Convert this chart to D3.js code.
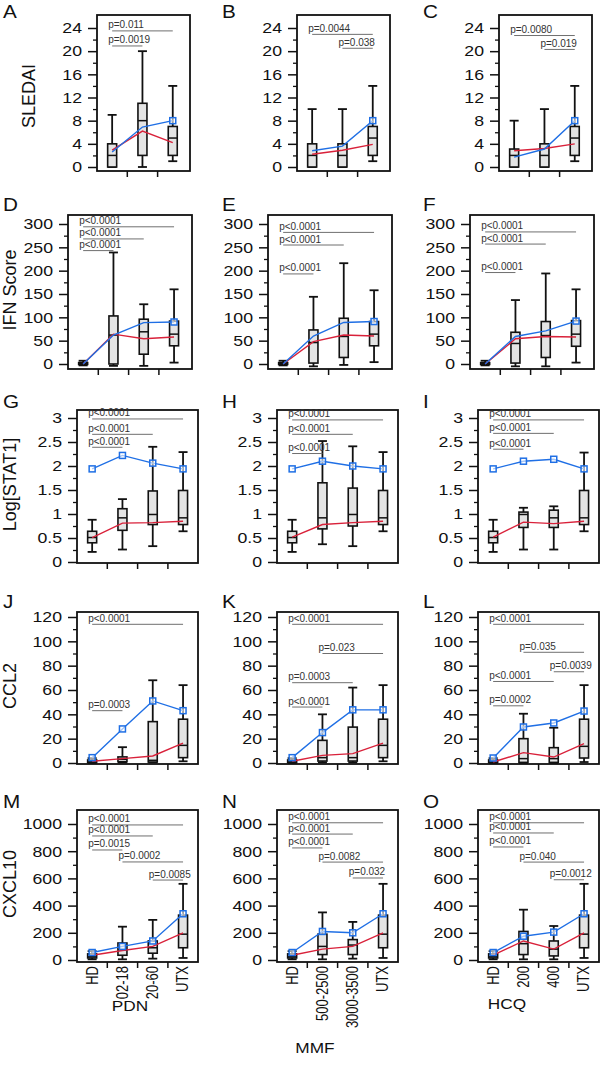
<!DOCTYPE html>
<html><head><meta charset="utf-8">
<script src="https://cdn.jsdelivr.net/npm/d3@7"></script>
<style>
body{margin:0;background:#fff}
svg{display:block}
text{font-family:Arial,"Liberation Sans",sans-serif}
</style></head><body>
<svg id="chart" width="600" height="1074"></svg>
<script>
// ---------- DATA ----------
const groupsPDN = ["HD","02-18","20-60","UTX"];
const groupsMMF = ["HD","500-2500","3000-3500","UTX"];
const groupsHCQ = ["HD","200","400","UTX"];
const treatments = ["PDN","MMF","HCQ"];
const measures = ["SLEDAI","IFN Score","Log[STAT1]","CCL2","CXCL10"];
const panelLetters = ["A","B","C","D","E","F","G","H","I","J","K","L","M","N","O"];

const ticksSLEDAI = [0,4,8,12,16,20,24];
const minorSLEDAI = [2,6,10,14,18,22];
const ticksIFN = [0,50,100,150,200,250,300];
const minorIFN = [25,75,125,175,225,275];
const ticksSTAT1 = [0,0.5,1,1.5,2,2.5,3];
const minorSTAT1 = [0.25,0.75,1.25,1.75,2.25,2.75];
const ticksCCL2 = [0,20,40,60,80,100,120];
const minorCCL2 = [10,30,50,70,90,110];
const ticksCXCL10 = [0,200,400,600,800,1000];
const minorCXCL10 = [100,300,500,700,900];

// box stats per group: [lowWhisker, Q1, median, Q3, highWhisker]
const boxA = [[0,0,2,4,9],[0,2,8,11,20],[1,2,5,7,14]];
const boxB = [[0,0,2,4,10],[0,0,2,4,10],[1,2,5,7,14]];
const boxC = [[0,0,2,3.1,8],[0,0,2,4,10],[1,2,5,7,14]];
const boxD = [[-3,-1,1,3,7],[-4,0,62,103,239],[-4,21,69,96,128],[3,39,64,92,160]];
const boxE = [[-3,-1,1,3,7],[-5,2,46,73,144],[-2,14,59,98,216],[4,39,64,91,158]];
const boxF = [[-3,-1,1,3,7],[-5,2,44,68,137],[-5,14,61,91,194],[3,38,64,93,160]];
const boxG = [[0.21,0.40,0.51,0.64,0.88],[0.26,0.66,0.92,1.11,1.31],[0.33,0.78,0.99,1.48,2.40],[0.64,0.78,0.92,1.49,2.29]];
const boxH = [[0.21,0.40,0.51,0.64,0.88],[0.37,0.69,0.92,1.65,2.52],[0.33,0.75,0.99,1.54,2.41],[0.64,0.78,0.92,1.49,2.29]];
const boxI = [[0.21,0.40,0.51,0.64,0.88],[0.26,0.72,0.99,1.04,1.13],[0.26,0.72,0.92,1.08,1.16],[0.64,0.78,0.92,1.49,2.28]];
const boxJ = [[0,0.5,1,2.5,4],[0.5,1,3,5,13],[0.5,0.8,2.2,34,68],[1.4,4.4,14.5,36,64]];
const boxK = [[0,0.5,1,2.5,4],[0.5,1.6,4.4,18.6,40],[0.5,1.6,4.4,29.5,62],[1.4,4.4,14.5,36,64]];
const boxL = [[0,0.5,1,2.5,4],[0,0.5,3.6,20,40.5],[0,0.5,3.6,12.6,29],[0.8,4.1,13.7,36,64]];
const boxM = [[5,15,25,45,65],[5,35,75,125,245],[10,50,90,140,295],[15,90,190,330,560]];
const boxN = [[5,15,25,45,65],[5,40,100,190,350],[10,40,110,150,280],[15,90,190,330,560]];
const boxO = [[5,15,25,45,65],[5,40,120,210,370],[5,30,80,140,250],[15,90,190,330,560]];

// red line values per group
const redA = [2.9,6.2,4.2];
const redB = [2.2,2.9,3.9];
const redC = [2.8,3.2,4.0];
const redD = [0,64,54,58];
const redE = [0,48,62,60];
const redF = [0,54,59,58];
const redG = [0.51,0.81,0.82,0.85];
const redH = [0.52,0.78,0.82,0.85];
const redI = [0.52,0.83,0.80,0.85];
const redJ = [1.4,3.6,5.8,16.4];
const redK = [1.4,6.3,7.7,16.4];
const redL = [0.8,8.5,4.9,16];
const redM = [35,70,100,200];
const redN = [35,80,100,200];
const redO = [35,140,80,200];

// blue line values per group
const blueA = [2.6,6.9,8.0];
const blueB = [2.8,3.6,8.0];
const blueC = [1.7,3.1,8.0];
const blueD = [0,62,88.6,90];
const blueE = [0,60,89,91];
const blueF = [0,59,71,92];
const blueG = [1.94,2.22,2.06,1.94];
const blueH = [1.94,2.10,2.00,1.94];
const blueI = [1.94,2.10,2.14,1.94];
const blueJ = [4.4,28,51,43];
const blueK = [4.4,25,43.7,43.7];
const blueL = [4.1,29.6,32.9,42.7];
const blueM = [55,100,140,340];
const blueN = [55,210,200,340];
const blueO = [55,175,205,340];

// p-value comparisons: [fromGroup, toGroup, label, level (in data units)]
const pA = [[0,2,"p=0.011",23.5],[0,1,"p=0.0019",20.9]];
const pB = [[0,2,"p=0.0044",22.9],[1,2,"p=0.038",20.5]];
const pC = [[0,2,"p=0.0080",22.7],[1,2,"p=0.019",20.3]];
const pD = [[0,3,"p<0.0001",294],[0,2,"p<0.0001",268],[0,1,"p<0.0001",243]];
const pE = [[0,3,"p<0.0001",282],[0,2,"p<0.0001",255],[0,1,"p<0.0001",193]];
const pF = [[0,3,"p<0.0001",283],[0,2,"p<0.0001",257],[0,1,"p<0.0001",196]];
const pG = [[0,3,"p<0.0001",2.98],[0,2,"p<0.0001",2.66],[0,1,"p<0.0001",2.39]];
const pH = [[0,3,"p<0.0001",2.96],[0,2,"p<0.0001",2.66],[0,1,"p<0.0001",2.26]];
const pI = [[0,3,"p<0.0001",2.96],[0,2,"p<0.0001",2.68],[0,1,"p<0.0001",2.35]];
const pJ = [[0,3,"p<0.0001",114],[0,1,"p=0.0003",43]];
const pK = [[0,3,"p<0.0001",114],[1,3,"p=0.023",90],[0,2,"p=0.0003",66],[0,1,"p<0.0001",46]];
const pL = [[0,3,"p<0.0001",114],[1,3,"p=0.035",91],[2,3,"p=0.0039",75],[0,2,"p<0.0001",67],[0,1,"p=0.0002",47]];
const pM = [[0,3,"p<0.0001",993],[0,2,"p<0.0001",912],[0,1,"p=0.0015",809],[1,3,"p=0.0002",721],[2,3,"p=0.0085",588]];
const pN = [[0,3,"p<0.0001",1009],[0,2,"p<0.0001",926],[0,1,"p<0.0001",824],[1,3,"p=0.0082",720],[2,3,"p=0.032",603]];
const pO = [[0,3,"p<0.0001",1009],[0,2,"p<0.0001",934],[0,1,"p<0.0001",831],[1,3,"p=0.040",720],[2,3,"p=0.0012",590]];

// ---------- ASSEMBLY ----------
const groupSets = [groupsPDN, groupsMMF, groupsHCQ];
const tickSets = [
  {major:ticksSLEDAI, minor:minorSLEDAI},
  {major:ticksIFN, minor:minorIFN},
  {major:ticksSTAT1, minor:minorSTAT1},
  {major:ticksCCL2, minor:minorCCL2},
  {major:ticksCXCL10, minor:minorCXCL10}
];
const boxSets = [boxA,boxB,boxC,boxD,boxE,boxF,boxG,boxH,boxI,boxJ,boxK,boxL,boxM,boxN,boxO];
const redSets = [redA,redB,redC,redD,redE,redF,redG,redH,redI,redJ,redK,redL,redM,redN,redO];
const blueSets = [blueA,blueB,blueC,blueD,blueE,blueF,blueG,blueH,blueI,blueJ,blueK,blueL,blueM,blueN,blueO];
const pSets = [pA,pB,pC,pD,pE,pF,pG,pH,pI,pJ,pK,pL,pM,pN,pO];

// ---------- LAYOUT ----------
const rows = [
  {top:15, bottom:171, y0:167, yTop:28,  frameW:93,  lefts:[97,297,499], letterY:18},
  {top:215,bottom:369, y0:364, yTop:224, frameW:124, lefts:[68,268,470], letterY:211},
  {top:410,bottom:563, y0:562, yTop:418, frameW:121, lefts:[77,277,478], letterY:408},
  {top:612,bottom:764, y0:763, yTop:617, frameW:121, lefts:[77,277,478], letterY:608},
  {top:810,bottom:962, y0:960, yTop:824, frameW:121, lefts:[77,277,478], letterY:808}
];
const letterX = [3,222,423];
const drugLabelX = [130,315,507];
const drugLabelY = [1011,1053,1009];
const step = 30.3;
const stretch = 1.18;
const RED = "#d9213a", BLUE = "#1f6fe5";

const svg = d3.select("#chart");

rows.forEach((row, r) => {
  const ts = tickSets[r];
  treatments.forEach((tr, c) => {
    const idx = r*3 + c;
    const groups = r === 0 ? groupSets[c].slice(1) : groupSets[c];
    const left = row.lefts[c];
    const x = d3.scaleBand().domain(groups).range([left, left + groups.length*step]);
    const cx = i => x(groups[i]) + x.bandwidth()/2;
    const y = d3.scaleLinear().domain([0, ts.major[ts.major.length-1]]).range([row.y0, row.yTop]);
    const g = svg.append("g");

    // panel letter
    g.append("text").attr("x", letterX[c]).attr("y", row.letterY)
      .attr("font-size", 18).attr("fill","#111")
      .attr("transform", `translate(${letterX[c]},0) scale(1.15,1) translate(${-letterX[c]},0)`)
      .text(panelLetters[idx]);

    // minor ticks
    const minorAx = d3.axisLeft(y).tickValues(ts.minor).tickSize(4).tickFormat("");
    const gm = g.append("g").attr("transform", `translate(${left},0)`).call(minorAx);
    gm.select(".domain").remove();
    gm.selectAll("line").attr("stroke","#111").attr("stroke-width",1.3);

    // major ticks
    const majorAx = d3.axisLeft(y).tickValues(ts.major).tickSize(9).tickPadding(3.7)
      .tickFormat(d => String(d));
    const ga = g.append("g").attr("transform", `translate(${left},0)`).call(majorAx);
    ga.select(".domain").remove();
    ga.selectAll("line").attr("stroke","#111").attr("stroke-width",1.5);
    ga.selectAll("text").attr("font-size",15).attr("fill","#111")
      .attr("font-family","Arial, 'Liberation Sans', sans-serif")
      .attr("transform", `scale(${stretch},1)`);

    // frame
    g.append("rect").attr("x", left).attr("y", row.top)
      .attr("width", row.frameW).attr("height", row.bottom - row.top)
      .attr("fill","none").attr("stroke","#111").attr("stroke-width",1.8);

    // x ticks at category boundaries
    g.selectAll(".xt").data(groups.slice(1)).enter().append("line")
      .attr("x1", d => x(d)).attr("x2", d => x(d))
      .attr("y1", row.bottom).attr("y2", row.bottom + 6)
      .attr("stroke","#111").attr("stroke-width",1.5);

    // boxes
    const boxes = boxSets[idx];
    const bw = 9;
    boxes.forEach((b, i) => {
      const xc = cx(i);
      g.append("line").attr("x1",xc).attr("x2",xc).attr("y1",y(b[0])).attr("y2",y(b[4]))
        .attr("stroke","#111").attr("stroke-width",1.8);
      [b[0], b[4]].forEach(v => g.append("line").attr("x1",xc-bw/2).attr("x2",xc+bw/2)
        .attr("y1",y(v)).attr("y2",y(v)).attr("stroke","#111").attr("stroke-width",1.8));
      g.append("rect").attr("x",xc-bw/2).attr("width",bw)
        .attr("y",y(b[3])).attr("height",Math.max(1,y(b[1])-y(b[3])))
        .attr("fill","#e4e4e4").attr("stroke","#111").attr("stroke-width",1.6);
      g.append("line").attr("x1",xc-bw/2).attr("x2",xc+bw/2)
        .attr("y1",y(b[2])).attr("y2",y(b[2])).attr("stroke","#111").attr("stroke-width",1.5);
    });

    // lines
    const line = d3.line().x((d,i) => cx(i)).y(d => y(d));
    g.append("path").datum(redSets[idx]).attr("d", line)
      .attr("fill","none").attr("stroke",RED).attr("stroke-width",1.4);
    g.append("path").datum(blueSets[idx]).attr("d", line)
      .attr("fill","none").attr("stroke",BLUE).attr("stroke-width",1.4);
    const blue = blueSets[idx];
    const markIdx = r < 2 ? [blue.length-1] : blue.map((d,i)=>i);
    markIdx.forEach(i => {
      g.append("rect").attr("x",cx(i)-3).attr("y",y(blue[i])-3).attr("width",6).attr("height",6)
        .attr("fill","#fff").attr("fill-opacity",0.6).attr("stroke",BLUE).attr("stroke-width",1.5);
    });

    // p-values
    pSets[idx].forEach(p => {
      const x1 = cx(p[0]), x2 = cx(p[1]), yy = y(p[3]);
      g.append("line").attr("x1",x1).attr("x2",x2).attr("y1",yy).attr("y2",yy)
        .attr("stroke","#6f6f6f").attr("stroke-width",1);
      g.append("text").attr("x",x1-4).attr("y",yy-2.5).attr("font-size",10)
        .attr("fill","#333").text(p[2]);
    });

    // y title (first column)
    if (c === 0) {
      const tx = r === 0 ? 29 : 10;
      const tyc = (row.top + row.bottom)/2 + (r===0?3:-2);
      g.append("text").attr("font-size",18).attr("fill","#111")
        .attr("text-anchor","middle").attr("dominant-baseline","central")
        .attr("transform",`translate(${tx},${tyc}) rotate(-90)`)
        .text(measures[r]);
    }

    // x labels (bottom row)
    if (r === rows.length - 1) {
      groups.forEach((gname, i) => {
        g.append("text").attr("font-size",13).attr("fill","#111")
          .attr("text-anchor","end").attr("dominant-baseline","central")
          .attr("transform",`translate(${cx(i)},${row.bottom+4}) rotate(-90) scale(1,1.2)`)
          .text(gname);
      });
      g.append("text").attr("font-size",15).attr("fill","#111").attr("text-anchor","middle")
        .attr("transform",`translate(${drugLabelX[c]},${drugLabelY[c]}) scale(1.15,1)`)
        .text(tr);
    }
  });
});
</script>
</body></html>
